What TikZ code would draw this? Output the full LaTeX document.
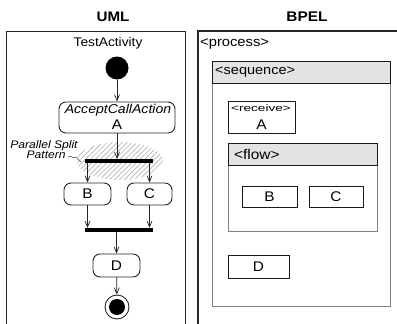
\documentclass[tikz,border=0pt]{standalone}
\usepackage{graphicx}
\usepackage{fontspec}
\setmainfont{Liberation Sans}[FakeStretch=1.1]
\usetikzlibrary{arrows.meta,patterns.meta,shapes.geometric}
\newcommand{\fsz}[1]{\fontsize{#1}{#1}\selectfont}
\begin{document}
\begin{tikzpicture}[x=1pt,y=-1pt,
  frame/.style={draw=black!85,line width=1pt},
  title/.style={font=\fsz{13.8}\bfseries},
  action/.style={draw=black!85,line width=0.9pt,rounded corners=7pt,inner sep=0pt},
  letter/.style={font=\fsz{14}},
  bar/.style={fill=black,inner sep=0pt,minimum width=68pt,minimum height=4pt},
  flowline/.style={draw=black!85,line width=0.8pt,-{Straight Barb[length=6pt,width=5pt,line width=0.7pt]}},
  elem/.style={draw=black!90,line width=1pt,inner sep=0pt},
  hdr/.style={draw=black!90,line width=1pt,fill=black!11},
  body/.style={draw=black!50,line width=1pt},
  tag/.style={font=\fsz{13.4},anchor=west,inner sep=0pt}]
\useasboundingbox (0,0) rectangle (397,324);

% ---------- UML activity ----------
\node[title] (umltitle) at (113,17) {UML};
\draw[frame] (6,324) -- (6,31) -- (185,31) -- (185,324);
\node[font=\fsz{12.5}] (actname) at (108,43) {TestActivity};

% parallel split pattern highlight
\node[ellipse,minimum width=86pt,minimum height=38pt,inner sep=0pt,
      pattern={Lines[angle=45,distance=3.5pt,line width=0.7pt]},pattern color=black!30]
      (pattern) at (120,161) {};
\node[font=\fsz{11}\itshape,align=right,inner sep=0pt] (patlabel) at (44,150)
      {Parallel Split\\[-1pt]\hspace*{1pt}Pattern\hspace*{12pt}};
\coordinate (leadA) at (68,157);
\draw[black!70,line width=0.6pt] (leadA) .. controls (71,154) and (73,160) .. (76,157) -- (81,162);

\node[circle,fill=black,minimum size=23pt,inner sep=0pt] (start) at (117,68) {};
\node[action,minimum width=116pt,minimum height=31pt] (A) at (117,117.5) {};
\node[font=\fsz{12.8}\itshape,inner sep=0pt] (Aname) at (118,110) {AcceptCallAction};
\node[letter,inner sep=0pt] (Aletter) at (117,125) {A};

\node[bar] (fork) at (119,161) {};
\node[action,minimum width=47pt,minimum height=22pt,letter] (B) at (87.5,194) {B};
\node[action,minimum width=45pt,minimum height=22pt,letter] (C) at (149.5,194) {C};
\node[bar] (join) at (119,230) {};
\node[action,minimum width=47pt,minimum height=23pt,letter] (D) at (116.5,265.5) {D};
\node[circle,draw=black!85,line width=0.9pt,minimum size=24pt,inner sep=0pt] (final) at (117,307) {};
\node[circle,fill=black,minimum size=16pt,inner sep=0pt] (finaldot) at (final) {};

\draw[flowline] (start) -- (A);
\draw[flowline] (A) -- (A |- fork.north);
\draw[flowline] (B |- fork.south) -- (B);
\draw[flowline] (C |- fork.south) -- (C);
\draw[flowline] (B) -- (B |- join.north);
\draw[flowline] (C) -- (C |- join.north);
\draw[flowline] (D |- join.south) -- (D);
\draw[flowline] (D) -- (final);

% ---------- BPEL structure ----------
\node[title,font=\fsz{14}\bfseries] (bpeltitle) at (307,17) {BPEL};
\draw[frame,line width=1.3pt] (198,324) -- (198,31) -- (397,31);
\node[tag] (process) at (200,44) {<process>};

% sequence
\draw[body] (212,83) rectangle (390,306);
\draw[hdr] (212,61) rectangle (390,83);
\node[tag,font=\fsz{13.2}] (sequence) at (215,72) {<sequence>};

% receive
\node[elem,minimum width=67pt,minimum height=32pt] (receive) at (261.5,117) {};
\node[font=\fsz{9.5},inner sep=0pt] (rtag) at (261,108) {\scalebox{1.3}[1]{<receive>}};
\node[letter,inner sep=0pt] (ra) at (261.5,124.5) {A};

% flow
\draw[body] (228,165) rectangle (377,231);
\draw[hdr] (228,143) rectangle (377,165);
\node[tag,font=\fsz{14}] (flow) at (234,154) {<flow>};
\node[elem,minimum width=55pt,minimum height=21pt,letter] (bB) at (269.5,196.5) {B};
\node[elem,minimum width=54pt,minimum height=21pt,letter] (bC) at (336,196.5) {C};

\node[elem,minimum width=61pt,minimum height=23pt,letter] (bD) at (258.5,266.5) {D};
\end{tikzpicture}
\end{document}
